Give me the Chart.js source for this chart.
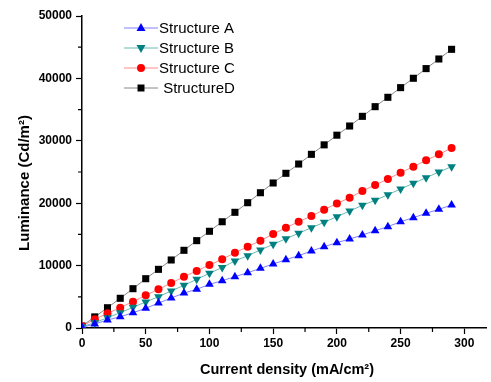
<!DOCTYPE html>
<html lang="en">
<head>
    <meta charset="UTF-8">
    <title>Luminance vs current density</title>
    <script src="https://cdn.jsdelivr.net/npm/chart.js"></script>
    <style>
        body { margin: 0; background: #fff; }
    </style>
</head>
<body>
    <canvas id="myChart" width="491" height="382"></canvas>

    <script>
        // data
        const currentDensity = [0, 10, 20, 30, 40, 50, 60, 70, 80, 90, 100, 110, 120, 130, 140,
            150, 160, 170, 180, 190, 200, 210, 220, 230, 240, 250, 260, 270, 280, 290];
        const structureA = [100, 640, 1280, 1810, 2450, 3150, 4000, 4800, 5600, 6200, 7000, 7580, 8220, 8860, 9560,
            10260, 10950, 11590, 12340, 13030, 13680, 14260, 14900, 15600, 16240, 17030, 17680, 18380, 19020, 19710];
        const structureB = [200, 850, 1650, 2450, 3320, 4170, 5020, 5930, 6840, 7800, 8760, 9700, 10740, 11590, 12500,
            13410, 14310, 15180, 16070, 16940, 17840, 18750, 19660, 20460, 21360, 22280, 23190, 24090, 25000, 25850];
        const structureC = [300, 1390, 2350, 3260, 4220, 5240, 6200, 7210, 8220, 9150, 10100, 11000, 12070, 13030, 14000,
            15060, 16070, 17030, 17950, 18960, 19950, 20880, 21950, 22920, 23880, 24890, 25850, 26870, 27830, 28850];
        const structureD = [320, 1780, 3250, 4760, 6300, 7900, 9400, 10900, 12450, 14000, 15500, 17030, 18540, 20080, 21680,
            23240, 24790, 26280, 27830, 29350, 30900, 32370, 33920, 35470, 36970, 38520, 40020, 41570, 43110, 44660];
        const seriesNames = ['Structure A', 'Structure B', 'Structure C', ' StructureD'];
        const xTickValues = [0, 50, 100, 150, 200, 250, 300];

        function toPoints(ys) {
            return currentDensity.map((x, i) => ({ x: x, y: ys[i] }));
        }

        const tickFont = { family: 'Arial, "Liberation Sans"', size: 12, weight: 'bold' };

        // draws a marker like the ones in the plot
        function marker(ctx, style, x, y, color) {
            ctx.fillStyle = color;
            ctx.beginPath();
            if (style === 'circle') {
                ctx.arc(x, y, 4, 0, Math.PI * 2);
            } else if (style === 'rect') {
                ctx.rect(x - 3.5, y - 3.5, 7, 7);
            } else if (style === 'up') {
                ctx.moveTo(x, y - 5); ctx.lineTo(x + 4.5, y + 3); ctx.lineTo(x - 4.5, y + 3);
            } else {
                ctx.moveTo(x, y + 5); ctx.lineTo(x + 4.5, y - 3); ctx.lineTo(x - 4.5, y - 3);
            }
            ctx.closePath();
            ctx.fill();
        }

        const extras = {
            id: 'extras',
            afterDraw(chart) {
                const ctx = chart.ctx;
                const xs = chart.scales.x, ys = chart.scales.y;
                ctx.save();
                // minor ticks
                ctx.strokeStyle = '#000';
                ctx.lineWidth = 1.2;
                ctx.beginPath();
                for (let v = 25; v < xs.max; v += 50) {
                    const px = xs.getPixelForValue(v);
                    ctx.moveTo(px, ys.bottom); ctx.lineTo(px, ys.bottom + 4);
                }
                for (let v = 5000; v < ys.max; v += 10000) {
                    const py = ys.getPixelForValue(v);
                    ctx.moveTo(xs.left, py); ctx.lineTo(xs.left - 4, py);
                }
                ctx.stroke();

                // axis titles
                ctx.fillStyle = '#000';
                ctx.textAlign = 'center';
                ctx.textBaseline = 'middle';
                ctx.font = 'bold 14.5px Arial, "Liberation Sans"';
                ctx.fillText('Current density (mA/cm\u00b2)', 287, 370);
                ctx.translate(25, 183);
                ctx.rotate(-Math.PI / 2);
                ctx.font = 'bold 15px Arial, "Liberation Sans"';
                ctx.fillText('Luminance (Cd/m\u00b2)', 0, 0);
                ctx.restore();

                // legend
                ctx.save();
                ctx.font = '15px Arial, "Liberation Sans"';
                ctx.textAlign = 'left';
                ctx.textBaseline = 'middle';
                chart.data.datasets.forEach((ds, i) => {
                    const y = 28 + 20 * i;
                    ctx.strokeStyle = ds.borderColor;
                    ctx.lineWidth = 1;
                    ctx.beginPath();
                    ctx.moveTo(124, y); ctx.lineTo(158, y);
                    ctx.stroke();
                    marker(ctx, ds.markerKind, 141, y, ds.pointBackgroundColor);
                    ctx.fillStyle = '#000';
                    ctx.fillText(ds.label, 159, y + 1);
                });
                ctx.restore();
            }
        };

        function dataset(label, ys, lineColor, pointColor, style, kind, rotation) {
            return {
                label: label,
                data: toPoints(ys),
                borderColor: lineColor,
                borderWidth: 1,
                pointBackgroundColor: pointColor,
                pointBorderWidth: 0,
                pointStyle: style,
                pointRotation: rotation,
                pointRadius: style === 'rect' ? 5 : (style === 'circle' ? 4 : 5),
                markerKind: kind,
                tension: 0
            };
        }

        const config = {
            type: 'line',
            data: {
                datasets: [
                    dataset(seriesNames[0], structureA, '#8080ff', '#0000ff', 'triangle', 'up', 0),
                    dataset(seriesNames[1], structureB, '#66bbb4', '#008080', 'triangle', 'down', 180),
                    dataset(seriesNames[2], structureC, '#ff8c8c', '#ff0000', 'circle', 'circle', 0),
                    dataset(seriesNames[3], structureD, '#888888', '#000000', 'rect', 'rect', 0)
                ]
            },
            options: {
                responsive: false,
                animation: false,
                layout: { padding: { top: 16, right: 1, left: 0, bottom: 0 } },
                plugins: { legend: { display: false }, tooltip: { enabled: false } },
                scales: {
                    x: {
                        type: 'linear',
                        min: 0,
                        max: 317,
                        afterFit(scale) { scale.height = 54; },
                        afterBuildTicks(scale) {
                            scale.ticks = xTickValues.map(v => ({ value: v }));
                        },
                        border: { color: '#000', width: 1.5 },
                        grid: {
                            drawOnChartArea: false,
                            tickLength: 6,
                            tickWidth: 1.2,
                            tickColor: '#000'
                        },
                        ticks: {
                            padding: 2,
                            color: '#000',
                            font: tickFont,
                            maxRotation: 0,
                            callback: v => String(v)
                        }
                    },
                    y: {
                        min: 0,
                        max: 50000,
                        afterFit(scale) { scale.width = 82; },
                        border: { color: '#000', width: 1.5 },
                        grid: {
                            drawOnChartArea: false,
                            tickLength: 6,
                            tickWidth: 1.2,
                            tickColor: '#000'
                        },
                        ticks: {
                            stepSize: 10000,
                            padding: 4,
                            color: '#000',
                            font: tickFont,
                            callback: v => String(v)
                        }
                    }
                }
            },
            plugins: [extras]
        };

        new Chart(document.getElementById('myChart'), config);
    </script>
</body>
</html>
